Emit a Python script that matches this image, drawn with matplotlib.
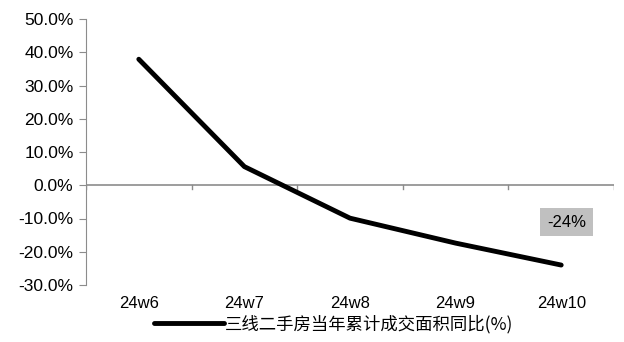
import matplotlib.pyplot as plt
from matplotlib.ticker import FuncFormatter

weeks = ["24w6", "24w7", "24w8", "24w9", "24w10"]
yoy = [37.9, 5.6, -9.9, -17.4, -24.0]
series_name = "三线二手房当年累计成交面积同比(%)"
last_label = "-24%"

plt.rcParams['font.family'] = ['Liberation Sans', 'Noto Sans CJK SC', 'DejaVu Sans']
axis_grey = "#8c8c8c"

fig = plt.figure(figsize=(6.24, 3.42), dpi=100)
ax = fig.add_axes([86 / 624, 1 - 285 / 342, 528 / 624, 266 / 342])

x = list(range(len(weeks)))
ax.plot(x, yoy, color="black", linewidth=3.5, solid_capstyle="round",
        label=series_name)

ax.set_xlim(-0.5, len(weeks) - 0.5)
ax.set_ylim(-30, 50)
ax.set_yticks(range(-30, 51, 10))
ax.yaxis.set_major_formatter(FuncFormatter(lambda v, p: f"{v:.1f}%"))

# category axis sits on the zero line, tick labels stay at the bottom
for side in ["top", "right", "bottom"]:
    ax.spines[side].set_visible(False)
ax.spines["left"].set_color(axis_grey)
ax.axhline(0, color=axis_grey, linewidth=1.2, zorder=1)
for b in [i - 0.5 for i in range(len(weeks) + 1)]:
    ax.plot([b, b], [0, -1.2], color=axis_grey, linewidth=1, zorder=1)
ax.set_xticks(x)
ax.set_xticklabels(weeks, fontsize=12)
ax.tick_params(axis="x", length=0, pad=8)
ax.tick_params(axis="y", color=axis_grey, length=5, direction="out",
               labelsize=12.5, pad=4)

# value box for the latest week
ax.annotate(last_label, (x[-1], yoy[-1]), xytext=(x[-1] + 0.05, -11.1),
            fontsize=12, ha="center", va="center",
            bbox=dict(boxstyle="square,pad=0.4", fc="#c0c0c0", ec="none"))

fig.legend(loc="lower center", bbox_to_anchor=(0.535, -0.02), frameon=False,
           handlelength=4.0, handletextpad=0.1,
           prop={"family": ["Noto Sans CJK SC"], "size": 12.5})

fig.savefig("out.png", dpi=100)
